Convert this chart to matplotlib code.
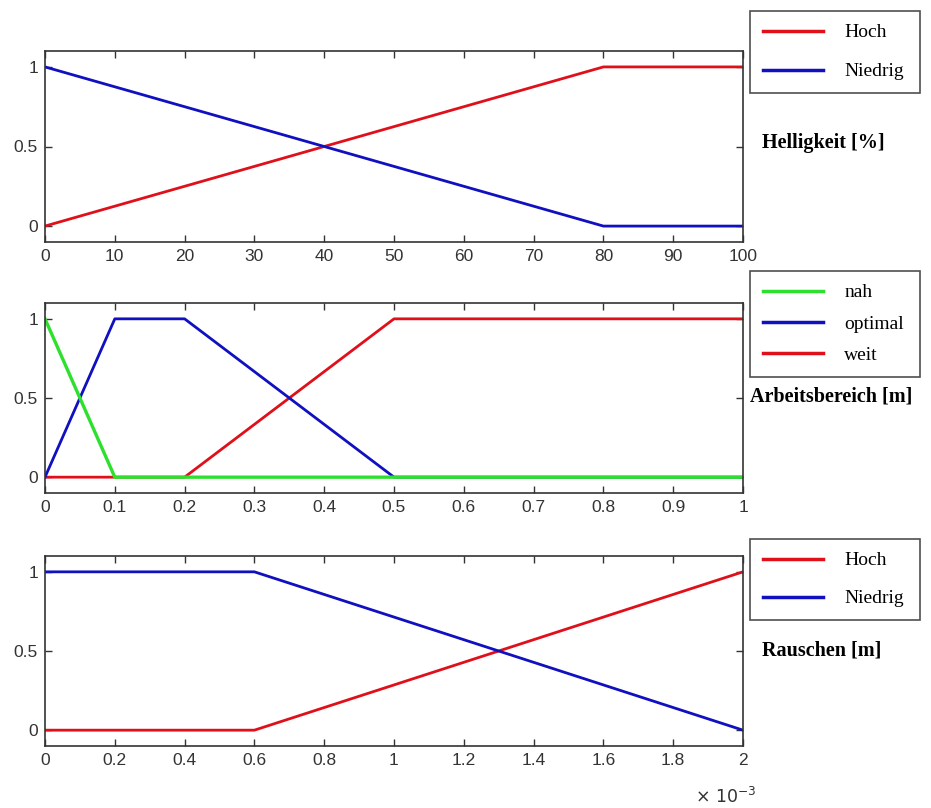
import matplotlib
matplotlib.use("Agg")
import matplotlib.pyplot as plt
from matplotlib.ticker import FuncFormatter

# Panel 1: Helligkeit [%]
hell_x = [0, 80, 100]
hell_hoch = [0, 1, 1]
hell_niedrig = [1, 0, 0]

# Panel 2: Arbeitsbereich [m]
nah_x = [0, 0.1, 1]
nah_y = [1, 0, 0]
opt_x = [0, 0.1, 0.2, 0.5, 1]
opt_y = [0, 1, 1, 0, 0]
weit_x = [0, 0.2, 0.5, 1]
weit_y = [0, 0, 1, 1]

# Panel 3: Rauschen [m]
rau_x = [0, 0.6e-3, 2e-3]
rau_hoch = [0, 0, 1]
rau_niedrig = [1, 1, 0]

RED = "#e0101a"
BLUE = "#1010c0"
GREEN = "#2ee02e"

W, H = 931, 808
fig = plt.figure(figsize=(W / 100, H / 100), dpi=100)

def ax_at(top, bottom):
    return fig.add_axes([45 / W, 1 - bottom / H, 698 / W, (bottom - top) / H])

def style(ax, xlim, xticks, fmt=None):
    ax.set_xlim(*xlim)
    ax.set_ylim(-0.1, 1.1)
    ax.set_xticks(xticks)
    ax.set_yticks([0, 0.5, 1])
    ax.yaxis.set_major_formatter(FuncFormatter(lambda v, p: f"{v:g}"))
    if fmt is None:
        ax.xaxis.set_major_formatter(FuncFormatter(lambda v, p: f"{v:g}"))
    else:
        ax.xaxis.set_major_formatter(FuncFormatter(fmt))
    ax.tick_params(direction="in", top=True, right=True, length=5, width=1,
                   color="#333333", labelcolor="#333333", pad=5)
    for lab in ax.get_xticklabels() + ax.get_yticklabels():
        lab.set_fontfamily("Liberation Sans")
        lab.set_fontsize(12.5)
    for s in ax.spines.values():
        s.set_color("#333333")
        s.set_linewidth(1.2)

lw = 2.0
legfont = dict(family="Liberation Serif", size=14)

def legend(ax, handles, labels, top, spacing, pad=0.65):
    leg = ax.legend(handles, labels, loc="upper left",
                    bbox_to_anchor=(750 / W, 1 - top / H, 170 / W, 0.001),
                    bbox_transform=fig.transFigure, mode="expand",
                    borderaxespad=0, prop=legfont, handlelength=3.1,
                    handletextpad=1.1, labelspacing=spacing, borderpad=pad,
                    fancybox=False, frameon=True)
    leg.get_frame().set_edgecolor("#222222")
    leg.get_frame().set_linewidth(1.2)
    for line in leg.get_lines():
        line.set_linewidth(2.5)
    return leg

titlefont = dict(family="Liberation Serif", weight="bold", size=14.5,
                 va="center", ha="left")

# Panel 1
ax1 = ax_at(51, 242)
h1, = ax1.plot(hell_x, hell_hoch, color=RED, lw=lw)
n1, = ax1.plot(hell_x, hell_niedrig, color=BLUE, lw=lw)
style(ax1, (0, 100), list(range(0, 101, 10)))
legend(ax1, [h1, n1], ["Hoch", "Niedrig"], 12, 1.1)
fig.text(762 / W, 1 - 143 / H, "Helligkeit [%]", **titlefont)

# Panel 2
ax2 = ax_at(303, 493)
w2, = ax2.plot(weit_x, weit_y, color=RED, lw=lw)
o2, = ax2.plot(opt_x, opt_y, color=BLUE, lw=lw)
g2, = ax2.plot(nah_x, nah_y, color=GREEN, lw=lw + 0.4)
style(ax2, (0, 1), [i / 10 for i in range(11)])
legend(ax2, [g2, o2, w2], ["nah", "optimal", "weit"], 272, 0.7)
fig.text(750 / W, 1 - 397 / H, "Arbeitsbereich [m]", **titlefont)

# Panel 3
ax3 = ax_at(556, 746)
h3, = ax3.plot(rau_x, rau_hoch, color=RED, lw=lw)
n3, = ax3.plot(rau_x, rau_niedrig, color=BLUE, lw=lw)
style(ax3, (0, 2e-3), [i * 0.2e-3 for i in range(11)],
      fmt=lambda v, p: f"{round(v * 1e3, 6):g}")
legend(ax3, [h3, n3], ["Hoch", "Niedrig"], 540, 1.05)
fig.text(762 / W, 1 - 650 / H, "Rauschen [m]", **titlefont)
fig.text(695 / W, 1 - 796 / H, r"$\times\ 10^{-3}$", family="Liberation Sans",
         size=12.5, color="#333333", va="center", ha="left")

fig.savefig("out.png", dpi=100, facecolor="white")
